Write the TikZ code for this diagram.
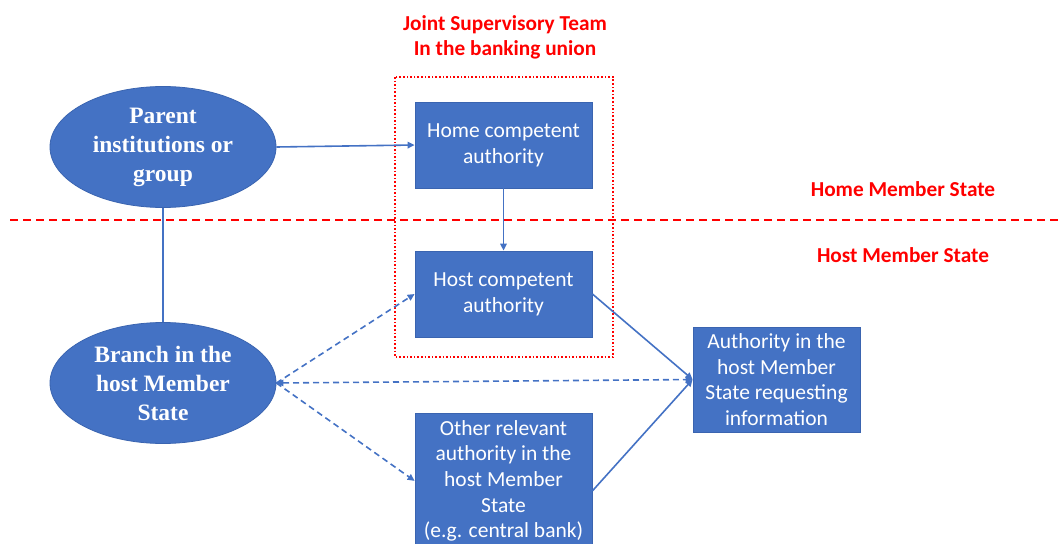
\documentclass[tikz,border=0pt]{standalone}
\usepackage{fontspec}
\setmainfont{Carlito}
\newfontfamily\serifb{Liberation Serif}
\usetikzlibrary{arrows.meta,shapes.geometric}
\definecolor{bblue}{HTML}{4472C4}
\definecolor{bedge}{HTML}{3A64B0}
\definecolor{rred}{HTML}{FF0000}
\begin{document}
\begin{tikzpicture}[x=1pt,y=-1pt,
  bbox/.style={draw=bedge,line width=0.8pt,fill=bblue,text=white,align=center,inner sep=0pt,font=\fontsize{21.5}{25.7}\selectfont},
  ell/.style={ellipse,draw=bedge,line width=0.8pt,fill=bblue,text=white,align=center,inner sep=0pt,minimum width=226pt,minimum height=121pt,font=\serifb\bfseries\fontsize{23.5}{29}\selectfont},
  conn/.style={draw=bblue,line width=1.6pt},
  arr/.style={conn,-{Triangle[length=7pt,width=6.5pt]}},
  darr/.style={conn,dash pattern=on 6pt off 4pt,-{Triangle[length=7pt,width=6.5pt]}},
  redt/.style={text=rred,font=\bfseries\fontsize{21.3}{25}\selectfont,align=center}]
\useasboundingbox (0,0) rectangle (1059,543);
% red dashed separator
\coordinate (sepL) at (10,220);
\coordinate (sepR) at (1059,220);
\draw[rred,line width=2pt,dash pattern=on 8pt off 5pt] (sepL) -- (sepR);
% titles
\node[redt] (jst) at (505,37) {Joint Supervisory Team\\In the banking union};
\node[redt] (home) at (903,189) {Home Member State};
\node[redt] (hostms) at (903,255) {Host Member State};
% dotted frame
\draw[rred,line width=1.6pt,dash pattern=on 1.6pt off 2pt] (395,77) rectangle (613,357);
% nodes
\node[ell] (parent) at (163,147) {Parent\\institutions or\\group};
\node[ell] (branch) at (163,383) {Branch in the\\host Member\\State};
\node[bbox,minimum width=177pt,minimum height=86pt] (hca) at (503.5,145) {Home competent\\authority};
\node[bbox,minimum width=177pt,minimum height=86pt] (hoca) at (503.5,294) {Host competent\\authority};
\node[bbox,minimum width=177pt,minimum height=135pt,anchor=north] (other) at (503.5,413) {Other relevant\\authority in the\\host Member\\State\\(e.g. central bank)};
\node[bbox,minimum width=167pt,minimum height=105pt] (req) at (776.5,379.5) {Authority in the\\host Member\\State requesting\\information};
% connectors
\draw[conn] (parent.south) -- (branch.north);
\draw[arr] (parent.east) -- (hca.west);
\draw[arr] (hca.south) -- (hoca.north);
\draw[darr] (branch.east) -- (hoca.west);
\draw[darr] (branch.east) -- (other.west);
\draw[darr,{Triangle[length=7pt,width=6.5pt]}-{Triangle[length=7pt,width=6.5pt]}] (branch.east) -- (req.west);
\draw[arr] (hoca.east) -- (req.west);
\draw[arr] ([yshift=-10pt]other.east) -- (req.west);
\end{tikzpicture}
\end{document}
